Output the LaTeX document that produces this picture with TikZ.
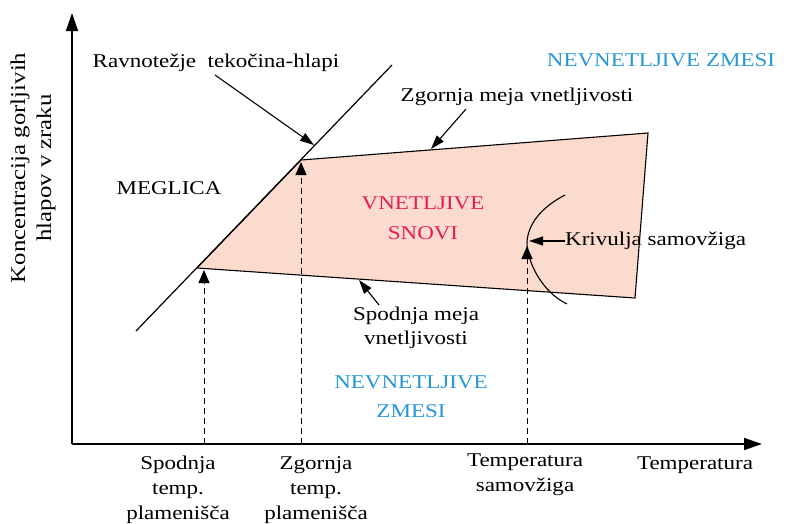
\documentclass[tikz,border=0pt]{standalone}
\usepackage{fontspec}
\setmainfont{Liberation Serif}[FakeStretch=1.18]
\usetikzlibrary{arrows.meta}
\definecolor{flampink}{RGB}{251,219,205}
\definecolor{nonblue}{RGB}{38,150,214}
\definecolor{flamred}{RGB}{232,28,84}
\begin{document}
\begin{tikzpicture}[x=1pt,y=-1pt,
	lbl/.style={font=\fontsize{19.5}{25}\selectfont,inner sep=0pt,align=center},
	axisarrow/.style={line width=1.5pt,-{Triangle[length=18pt,width=12pt]}},
	pointer/.style={line width=1.1pt,-{Triangle[length=14pt,width=9pt]}},
	dashup/.style={line width=1pt,dash pattern=on 6pt off 4pt,-{Triangle[length=13pt,width=11pt]}}]
		\useasboundingbox (0,0) rectangle (787,523);
		
		% axes
		\coordinate (o) at (72,444);
		\coordinate (ytop) at (72,13);
		\coordinate (xend) at (762,444);
		\draw[axisarrow](o)--(ytop);
		\draw[axisarrow](o)--(xend);
		
		% flammable region
		\coordinate (pA) at (197,268);
		\coordinate (pB) at (301,160);
		\coordinate (pC) at (648,133);
		\coordinate (pD) at (635,298);
		\draw[line width=1.1pt][fill=flampink](pA)--(pB)--(pC)--(pD)--cycle;
		
		% liquid-vapour equilibrium
		\coordinate (eqlow) at (136,331);
		\coordinate (eqhigh) at (392,65);
		\draw[line width=1.2pt](eqlow)--(eqhigh);
		
		% autoignition curve
		\coordinate (cTop) at (565,195);
		\coordinate (cMid) at (527,242);
		\coordinate (cBot) at (567,304);
		\draw[line width=1.1pt](cTop) .. controls (540,208) and (528,225) .. (cMid)
		.. controls (527,262) and (542,292) .. (cBot);
		
		% dashed temperature lines
		\coordinate (x1) at (204,444);
		\coordinate (x2) at (301,444);
		\coordinate (x3) at (527,444);
		\coordinate (t1tip) at (204,270);
		\coordinate (t2tip) at (301,162);
		\coordinate (t3tip) at (527,246);
		\draw[dashup](x1)--(t1tip);
		\draw[dashup](x2)--(t2tip);
		\draw[dashup](x3)--(t3tip);
		
		% region labels
		\node[lbl] (meglica) at (169,188) {MEGLICA};
		\node[lbl,text=flamred,font=\fontsize{19.5}{30}\selectfont] (vnetljive) at (423,218) {VNETLJIVE\\SNOVI};
		\node[lbl,text=nonblue] (nonup) at (661,60) {NEVNETLJIVE ZMESI};
		\node[lbl,text=nonblue,font=\fontsize{19.5}{29}\selectfont] (nondown) at (411,397) {NEVNETLJIVE\\ZMESI};
		
		% pointer labels
		\node[lbl] (ravno) at (216,63) {Ravnotežje\ \ tekočina-hlapi};
		\node[lbl] (zgmeja) at (517,97) {Zgornja meja vnetljivosti};
		\node[lbl,font=\fontsize{19.5}{24}\selectfont] (spmeja) at (416,328) {Spodnja meja\\vnetljivosti};
		\node[lbl,anchor=west] (krivulja) at (565,241) {Krivulja samovžiga};
		
		\coordinate (ravnotail) at (215,75);
		\coordinate (ravnotip) at (314,145);
		\coordinate (zgtail) at (466,109);
		\coordinate (zgtip) at (431,149);
		\coordinate (sptail) at (379,305);
		\coordinate (sptip) at (359,280);
		\coordinate (krtip) at (529,241);
		\draw[pointer](ravnotail)--(ravnotip);
		\draw[pointer](zgtail)--(zgtip);
		\draw[pointer](sptail)--(sptip);
		\draw[pointer](krivulja.west)--(krtip);
		
		% axis labels
		\node[lbl,rotate=90,font=\fontsize{21}{26}\selectfont] (ylabel) at (33,168) {Koncentracija gorljivih\\hlapov v zraku};
		\node[lbl] (t1) at (178,490) {Spodnja\\temp.\\plamenišča};
		\node[lbl] (t2) at (316,490) {Zgornja\\temp.\\plamenišča};
		\node[lbl] (t3) at (525,475) {Temperatura\\samovžiga};
		\node[lbl] (temp) at (695,465) {Temperatura};
	\end{tikzpicture}
\end{document}
